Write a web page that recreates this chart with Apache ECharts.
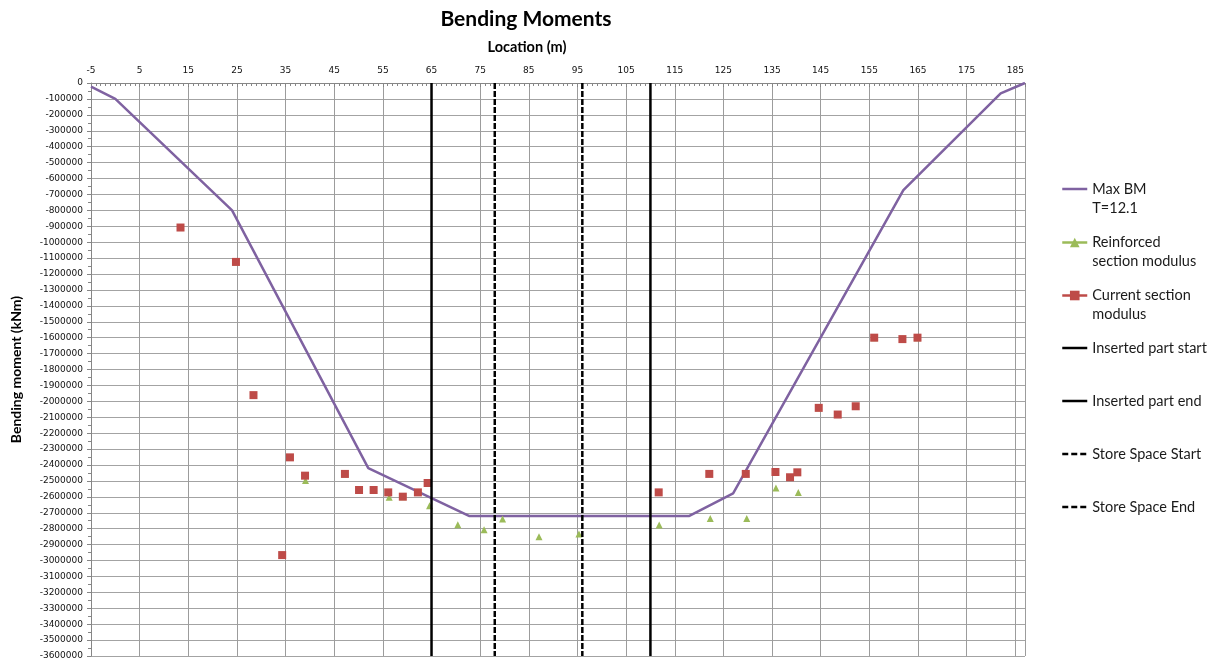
<!DOCTYPE html>
<html>
<head>
<meta charset="utf-8">
<script src="https://cdn.jsdelivr.net/npm/echarts@6/dist/echarts.min.js"></script>
<style>
html,body{margin:0;padding:0;background:#fff;}
#chart{width:1224px;height:664px;}
</style>
</head>
<body>
<div id="chart"></div>
<script>
// ---- data ----
const titleText = 'Bending Moments';
const xAxisName = 'Location (m)';
const yAxisName = 'Bending moment (kNm)';

const bmName = 'Max BM T=12.1';
const bmX = [-5, 0, 24, 52, 72.7, 118, 127, 162, 182, 187];
const bmY = [-23000, -100000, -800000, -2420000, -2720000, -2720000, -2578000, -673000, -65000, 0];

const reName = 'Reinforced section modulus';
const reX = [13.4, 24.8, 28.4, 34.3, 35.9, 39.1, 47.2, 50.1, 53.1, 56.3, 59.1, 62.2, 64.6, 70.4, 75.8, 79.6, 87.1, 95.3, 111.8, 122.3, 129.8, 135.8, 138.7, 140.4, 144.6, 148.5, 152.2, 156.0, 161.8, 164.9];
const reY = [-908000, -1124000, -1961000, -2966000, -2352000, -2498000, -2456000, -2557000, -2557000, -2603000, -2599000, -2572000, -2656000, -2775000, -2807000, -2740000, -2851000, -2834000, -2777000, -2736000, -2736000, -2544000, -2477000, -2572000, -2041000, -2083000, -2031000, -1600000, -1609000, -1600000];

const curName = 'Current section modulus';
const curX = [13.4, 24.8, 28.4, 34.3, 35.9, 39.0, 47.2, 50.1, 53.1, 56.1, 59.1, 62.2, 64.2, 111.7, 122.1, 129.6, 135.7, 138.7, 140.2, 144.6, 148.5, 152.2, 156.0, 161.8, 164.9];
const curY = [-908000, -1124000, -1961000, -2966000, -2352000, -2467000, -2456000, -2557000, -2557000, -2572000, -2599000, -2572000, -2513000, -2572000, -2456000, -2456000, -2444000, -2477000, -2446000, -2041000, -2083000, -2031000, -1600000, -1609000, -1600000];

const insStartName = 'Inserted part start';
const insStartX = [65, 65];
const insEndName = 'Inserted part end';
const insEndX = [110, 110];
const storeStartName = 'Store Space Start';
const storeStartX = [78, 78];
const storeEndName = 'Store Space End';
const storeEndX = [96, 96];
const markerY = [0, -3600000];

const xMin = -5, xMax = 187, xStep = 10;
const yMin = -3600000, yMax = 0, yStep = 100000;

// ---- helpers ----
const zip = (xs, ys) => xs.map((x, i) => [x, ys[i]]);
const legendWrap = {
  'Max BM T=12.1': '\nMax BM\nT=12.1',
  'Reinforced section modulus': '\nReinforced\nsection modulus',
  'Current section modulus': '\nCurrent section\nmodulus'
};
const C_BM = '#7F62A1', C_RE = '#9BBB59', C_CUR = '#BE4B48';
const legendFont = { fontFamily: 'Lato', fontSize: 14.5, color: '#1a1a1a', lineHeight: 19 };

function legendItem(name, centerY, lineStyle, multi, hideSymbol) {
  const item = { name: name, lineStyle: lineStyle };
  if (hideSymbol) item.itemStyle = { opacity: 0 };
  return {
    orient: 'vertical',
    left: 1061,
    top: multi ? centerY - 28.5 : centerY - 9.5,
    padding: 0,
    itemWidth: 25,
    itemHeight: 12,
    itemGap: 0,
    selectedMode: false,
    textStyle: legendFont,
    formatter: n => legendWrap[n] || n,
    data: [item]
  };
}

const chart = echarts.init(document.getElementById('chart'), null, { renderer: 'canvas' });
chart.setOption({
  animation: false,
  backgroundColor: '#fff',
  title: {
    text: titleText,
    left: 521,
    top: 4,
    textAlign: 'center',
    textStyle: { fontFamily: 'Lato', fontWeight: 'bold', fontSize: 21, color: '#000' }
  },
  grid: { left: 91, right: 199, top: 83, bottom: 8, containLabel: false },
  legend: [
    legendItem(bmName, 189, { color: C_BM, width: 2.5, opacity: 1 }, true, true),
    legendItem(reName, 242.5, { color: C_RE, width: 2.5, opacity: 1, type: 'solid' }, true, false),
    legendItem(curName, 295.5, { color: C_CUR, width: 2.5, opacity: 1, type: 'solid' }, true, false),
    legendItem(insStartName, 348, { color: '#000', width: 2.5, opacity: 1 }, false, true),
    legendItem(insEndName, 401, { color: '#000', width: 2.5, opacity: 1 }, false, true),
    legendItem(storeStartName, 454, { color: '#000', width: 2.5, opacity: 1, type: [6, 3] }, false, true),
    legendItem(storeEndName, 507, { color: '#000', width: 2.5, opacity: 1, type: [6, 3] }, false, true)
  ],
  xAxis: {
    type: 'value',
    position: 'top',
    min: xMin, max: xMax, interval: xStep,
    name: xAxisName,
    nameLocation: 'middle',
    nameGap: 28,
    nameTextStyle: { fontFamily: 'Lato', fontWeight: 'bold', fontSize: 14.5, color: '#000', padding: [0, 62, 0, 0] },
    axisLine: { onZero: false, lineStyle: { color: '#868686', width: 1 } },
    axisTick: { inside: true, length: 4, lineStyle: { color: '#868686' } },
    minorTick: { show: true, splitNumber: 10, length: 3, lineStyle: { color: '#868686' } },
    axisLabel: {
      fontFamily: 'DejaVu Sans', fontSize: 9, color: '#111', margin: 8,
      showMaxLabel: false,
      formatter: v => String(v)
    },
    splitLine: { show: true, lineStyle: { color: '#9c9c9c', width: 1 } }
  },
  yAxis: {
    type: 'value',
    min: yMin, max: yMax, interval: yStep,
    name: yAxisName,
    nameLocation: 'middle',
    nameGap: 68,
    nameRotate: 90,
    nameTextStyle: { fontFamily: 'Lato', fontWeight: 'bold', fontSize: 14, color: '#000' },
    axisLine: { onZero: false, lineStyle: { color: '#868686', width: 1 } },
    axisTick: { inside: false, length: 4, lineStyle: { color: '#868686' } },
    minorTick: { show: true, splitNumber: 2, length: 3, lineStyle: { color: '#868686' } },
    axisLabel: {
      fontFamily: 'DejaVu Sans', fontSize: 9, color: '#111', margin: 8,
      formatter: v => String(v)
    },
    splitLine: { show: true, lineStyle: { color: '#a3a3a3', width: 1 } }
  },
  series: [
    {
      name: bmName, type: 'line', data: zip(bmX, bmY),
      showSymbol: false, symbol: 'none',
      lineStyle: { color: C_BM, width: 2.5 }, itemStyle: { color: C_BM }, z: 2
    },
    {
      name: reName, type: 'line', data: zip(reX, reY),
      symbol: 'triangle', symbolSize: 7, showAllSymbol: true,
      lineStyle: { width: 0, opacity: 0 },
      itemStyle: { color: C_RE }, z: 3
    },
    {
      name: curName, type: 'line', data: zip(curX, curY),
      symbol: 'rect', symbolSize: 8, showAllSymbol: true,
      lineStyle: { width: 0, opacity: 0 },
      itemStyle: { color: C_CUR }, z: 4
    },
    {
      name: insStartName, type: 'line', data: zip(insStartX, markerY), symbol: 'none',
      lineStyle: { color: '#000', width: 2.5 }, itemStyle: { color: '#000' }, z: 5
    },
    {
      name: insEndName, type: 'line', data: zip(insEndX, markerY), symbol: 'none',
      lineStyle: { color: '#000', width: 2.5 }, itemStyle: { color: '#000' }, z: 5
    },
    {
      name: storeStartName, type: 'line', data: zip(storeStartX, markerY), symbol: 'none',
      lineStyle: { color: '#000', width: 2.5, type: [6, 2] }, itemStyle: { color: '#000' }, z: 5
    },
    {
      name: storeEndName, type: 'line', data: zip(storeEndX, markerY), symbol: 'none',
      lineStyle: { color: '#000', width: 2.5, type: [6, 2] }, itemStyle: { color: '#000' }, z: 5
    }
  ]
});
</script>
</body>
</html>
